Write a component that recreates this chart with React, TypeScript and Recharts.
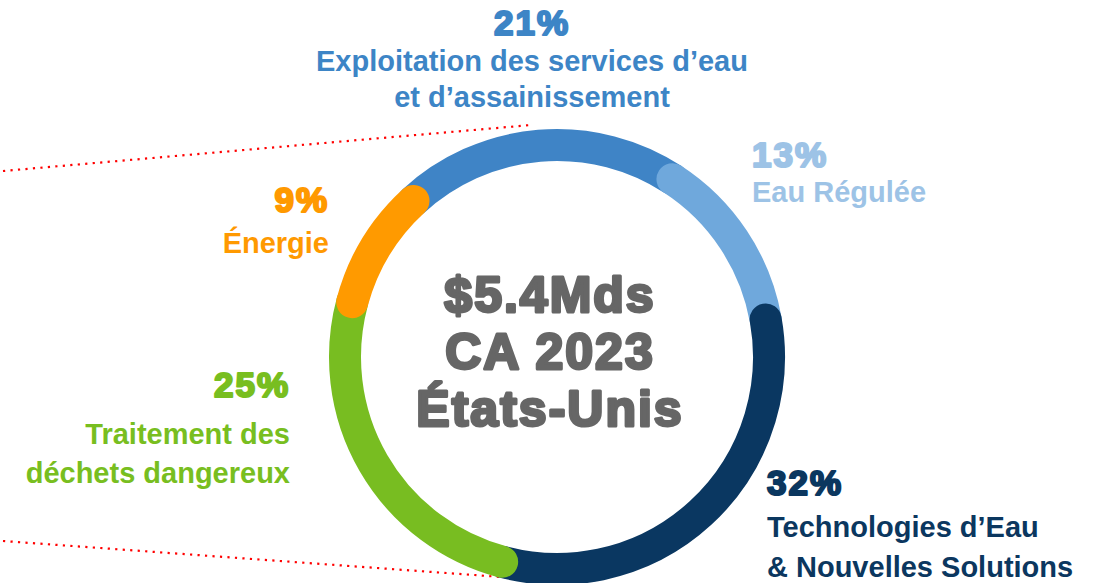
import { Cell, Pie, PieChart } from "recharts";

// Segments of the ring, in clockwise order starting after Énergie
const segments = [
  "Exploitation des services d’eau et d’assainissement",
  "Eau Régulée",
  "Technologies d’Eau & Nouvelles Solutions",
  "Traitement des déchets dangereux",
  "Énergie",
];
const shares = [21, 13, 32, 25, 9];
const ringColors = ["#3F84C6", "#6FA8DC", "#0A3761", "#78BD21", "#FF9A00"];
const textColors = ["#3D85C6", "#9DC3E6", "#0B375F", "#78BE20", "#FF9900"];

// How each label is broken into lines
const labelLines = [
  ["Exploitation des services d’eau", "et d’assainissement"],
  ["Eau Régulée"],
  ["Technologies d’Eau", "& Nouvelles Solutions"],
  ["Traitement des", "déchets dangereux"],
  ["Énergie"],
];

const centerLines = ["$5.4Mds", "CA 2023", "États-Unis"];

const data = segments.map((name, i) => ({ name, value: shares[i] }));

// label placement: x, baseline of the percentage, anchor
const labelPos = [
  { x: 532, y: 35, anchor: "middle", first: 71, step: 36 },
  { x: 752, y: 167, anchor: "start", first: 202, step: 36 },
  { x: 767, y: 495, anchor: "start", first: 537, step: 40 },
  { x: 290, y: 397, anchor: "end", first: 444, step: 39 },
  { x: 329, y: 212, anchor: "end", first: 253, step: 36 },
];

const font = "'Liberation Sans', Arial, sans-serif";

const RoundArc = (props: any) => {
  const { cx, cy, innerRadius, outerRadius, startAngle, endAngle, fill } = props;
  const r = (innerRadius + outerRadius) / 2;
  const w = outerRadius - innerRadius;
  const RAD = Math.PI / 180;
  const pt = (a: number) => [cx + r * Math.cos(-a * RAD), cy + r * Math.sin(-a * RAD)];
  const [x1, y1] = pt(startAngle);
  const [x2, y2] = pt(endAngle);
  const large = Math.abs(startAngle - endAngle) > 180 ? 1 : 0;
  const sweep = startAngle > endAngle ? 1 : 0;
  return (
    <path
      d={`M${x1},${y1} A${r},${r} 0 ${large} ${sweep} ${x2},${y2}`}
      stroke={fill}
      strokeWidth={w}
      strokeLinecap="round"
      fill="none"
    />
  );
};

const App = () => {
  return (
    <div style={{ position: "absolute", left: 0, top: 0, width: 1102, height: 583, background: "#fff" }}>
      {/* dotted connector lines behind the ring */}
      <svg width={1102} height={583} style={{ position: "absolute", left: 0, top: 0 }}>
        <line x1={3} y1={171} x2={531} y2={125} stroke="#FF0000" strokeWidth={2.2} strokeDasharray="2.2 5.3" />
        <line x1={3} y1={541} x2={557} y2={581} stroke="#FF0000" strokeWidth={2.2} strokeDasharray="2.2 5.3" />
      </svg>

      <div style={{ position: "absolute", left: 0, top: 0 }}>
        <PieChart width={1102} height={583}>
          <Pie
            data={data}
            dataKey="value"
            nameKey="name"
            cx={552}
            cy={352}
            innerRadius={196}
            outerRadius={228}
            startAngle={132.6}
            endAngle={-227.4}
            paddingAngle={0}
            stroke="none"
            shape={RoundArc}
            activeShape={RoundArc}
            inactiveShape={RoundArc}
            isAnimationActive={false}
          >
            {data.map((d, i) => (
              <Cell key={d.name} fill={ringColors[i]} />
            ))}
          </Pie>
        </PieChart>
      </div>

      {/* labels */}
      <svg width={1102} height={583} style={{ position: "absolute", left: 0, top: 0, pointerEvents: "none" }}>
        {labelPos.map((p, i) => (
          <g key={segments[i]} fontFamily={font} fontWeight="bold" fill={textColors[i]} textAnchor={p.anchor}>
            <text
              x={p.x}
              y={p.y}
              fontSize={35}
              letterSpacing={2}
              stroke={textColors[i]}
              strokeWidth={2.2}
              strokeLinejoin="round"
            >
              {shares[i]}%
            </text>
            {labelLines[i].map((line, j) => (
              <text key={line} x={p.x} y={p.first + j * p.step} fontSize={29}>
                {line}
              </text>
            ))}
          </g>
        ))}
        <g fontFamily={font} fontWeight="bold" fill="#666666" stroke="#666666" strokeWidth={3} strokeLinejoin="round" textAnchor="middle" letterSpacing={2}>
          {centerLines.map((line, j) => (
            <text key={line} x={550} y={312 + j * 57} fontSize={50}>
              {line}
            </text>
          ))}
        </g>
      </svg>
    </div>
  );
};

export default App;
